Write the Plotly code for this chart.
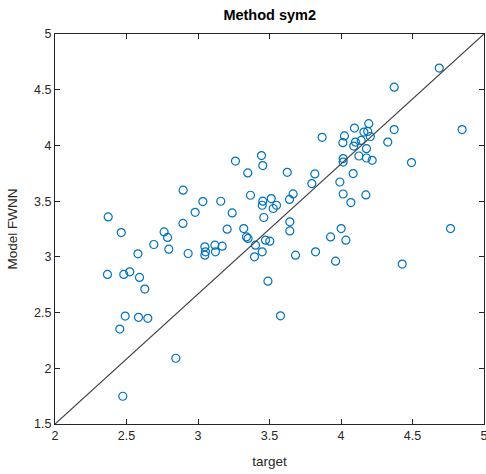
import plotly.graph_objects as go

target = [4.687, 4.372, 4.847, 4.372, 4.327, 4.194, 4.094, 4.160, 4.187, 4.024,
          4.013, 4.101, 4.089, 4.141, 4.178, 4.125, 4.178, 4.218, 4.015, 4.015,
          4.085, 4.493, 3.868, 3.262, 3.444, 3.453, 3.348, 3.624, 3.817, 3.796,
          3.992, 4.015, 4.174, 4.069, 3.665, 3.640, 3.512, 3.453, 3.449, 3.526,
          3.549, 3.367, 2.896, 3.034, 3.159, 2.980, 3.239, 3.460, 2.372, 2.895,
          3.642, 3.642, 4.001, 4.766, 3.204, 3.320, 3.339, 3.350, 3.472, 3.502,
          3.402, 3.449, 3.395, 3.682, 3.822, 3.927, 4.034, 3.962, 4.428, 3.489,
          3.577, 2.463, 2.763, 2.787, 2.796, 2.691, 2.580, 2.931, 3.048, 3.052,
          3.048, 3.118, 3.122, 3.169, 2.367, 2.481, 2.523, 2.591, 2.628, 2.491,
          2.584, 2.649, 2.453, 2.845, 2.474, 4.205]
model = [4.694, 4.523, 4.142, 4.142, 4.030, 4.195, 4.156, 4.120, 4.126, 4.085,
         4.025, 4.030, 3.994, 4.045, 3.971, 3.905, 3.887, 3.866, 3.882, 3.851,
         3.747, 3.846, 4.073, 3.860, 3.909, 3.819, 3.753, 3.759, 3.744, 3.658,
         3.672, 3.564, 3.556, 3.487, 3.565, 3.515, 3.523, 3.500, 3.463, 3.434,
         3.463, 3.553, 3.598, 3.496, 3.499, 3.400, 3.394, 3.353, 3.358, 3.300,
         3.314, 3.233, 3.254, 3.254, 3.248, 3.254, 3.179, 3.165, 3.150, 3.141,
         3.105, 3.045, 3.000, 3.015, 3.045, 3.179, 3.150, 2.961, 2.935, 2.782,
         2.471, 3.218, 3.224, 3.174, 3.069, 3.111, 3.027, 3.030, 3.090, 3.045,
         3.015, 3.105, 3.045, 3.096, 2.842, 2.842, 2.866, 2.815, 2.711, 2.469,
         2.457, 2.448, 2.352, 2.090, 1.749, 4.080]

line_x = [2, 5]
line_y = [1.5, 5]
x_ticks = [2, 2.5, 3, 3.5, 4, 4.5, 5]
y_ticks = [1.5, 2, 2.5, 3, 3.5, 4, 4.5, 5]

FONT = "Liberation Sans, Arial"
fig = go.Figure()
fig.add_trace(go.Scatter(
    x=target, y=model, mode="markers",
    marker=dict(symbol="circle-open", size=8, color="#0072BD",
                line=dict(width=1.2, color="#0072BD")),
    showlegend=False, cliponaxis=False))
fig.add_trace(go.Scatter(
    x=line_x, y=line_y, mode="lines",
    line=dict(color="#404040", width=1.2), showlegend=False))

axis_common = dict(
    showgrid=False, zeroline=False, showline=True, linecolor="#262626",
    linewidth=1, mirror="ticks", ticks="inside", ticklen=5,
    tickcolor="#262626", ticklabeloverflow="allow",
    tickfont=dict(family=FONT, size=12.5, color="#262626"),
)
fig.update_xaxes(range=[2, 5], tickvals=x_ticks,
                 ticktext=[("%g" % v) for v in x_ticks],
                 title=dict(text="target", font=dict(family=FONT, size=13.5, color="#262626"), standoff=14),
                 **axis_common)
fig.update_yaxes(range=[1.5, 5], tickvals=y_ticks,
                 ticktext=[("%g" % v) for v in y_ticks],
                 title=dict(text="Model FWNN", font=dict(family=FONT, size=13.5, color="#262626"), standoff=13),
                 **axis_common)
fig.update_layout(
    width=486, height=474,
    margin=dict(l=55, r=2, t=34, b=50, autoexpand=False),
    paper_bgcolor="white", plot_bgcolor="white",
    title=dict(text="<b>Method sym2</b>", x=0.555, xanchor="center", y=0.968, yanchor="middle",
               font=dict(family=FONT, size=14.5, color="#000000")),
)
fig.write_html("out.html")
